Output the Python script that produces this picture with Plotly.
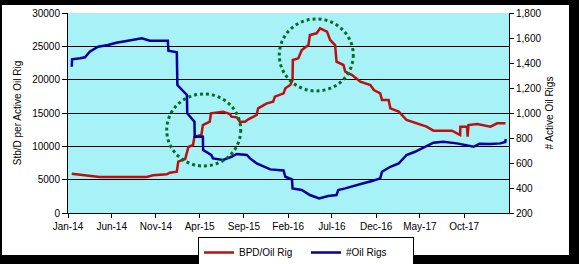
import plotly.graph_objects as go

# ---------------- data ----------------
rig_dates = ["2014-01-14","2014-01-15","2014-02-12","2014-03-01","2014-03-17","2014-04-15","2014-05-19",
             "2014-06-17","2014-07-22","2014-09-13","2014-10-11","2014-12-12","2014-12-14","2015-01-12",
             "2015-01-14","2015-02-16","2015-02-17","2015-03-14","2015-03-15","2015-04-12","2015-04-13",
             "2015-05-11","2015-05-17","2015-06-21","2015-07-20","2015-08-07","2015-09-11","2015-09-22",
             "2015-10-15","2015-11-19","2015-12-01","2016-01-16","2016-01-22","2016-02-14","2016-02-16",
             "2016-03-19","2016-04-16","2016-05-18","2016-06-18","2016-07-17","2016-07-23","2016-08-16",
             "2016-09-14","2016-10-18","2016-11-17","2016-12-15","2016-12-21","2017-01-19","2017-02-17",
             "2017-03-16","2017-04-14","2017-05-18","2017-06-17","2017-07-21","2017-09-06","2017-11-03",
             "2017-11-23","2017-12-31","2018-02-03","2018-02-20","2018-02-22"]
oil_rigs = [1370,1430,1438,1446,1490,1530,1544,
            1562,1576,1598,1578,1578,1498,1486,
            1224,1144,998,930,810,810,704,
            664,637,624,650,672,664,637,
            597,557,549,540,490,469,397,
            384,344,317,336,344,384,397,
            418,438,456,477,530,570,597,
            664,690,730,762,770,757,730,
            754,752,757,768,792]

bpd_dates = ["2014-01-14","2014-02-12","2014-03-17","2014-04-20","2014-09-30","2014-10-22","2014-12-08",
             "2014-12-19","2015-01-12","2015-01-17","2015-02-10","2015-02-21","2015-03-09","2015-03-14",
             "2015-04-07","2015-04-12","2015-05-06","2015-05-10","2015-06-21","2015-07-14","2015-07-20",
             "2015-08-07","2015-08-18","2015-09-05","2015-09-16","2015-10-15","2015-10-20","2015-11-19",
             "2015-12-11","2015-12-17","2016-01-16","2016-01-22","2016-02-08","2016-02-16","2016-02-17",
             "2016-03-07","2016-03-19","2016-04-11","2016-04-16","2016-05-09","2016-05-21","2016-06-14",
             "2016-06-25","2016-07-12","2016-07-17","2016-08-10","2016-08-16","2016-09-09","2016-10-07",
             "2016-11-11","2016-11-23","2016-12-15","2016-12-21","2017-01-13","2017-01-19","2017-02-17",
             "2017-03-16","2017-04-20","2017-05-24","2017-06-17","2017-08-20","2017-09-17","2017-09-18",
             "2017-10-11","2017-10-13","2017-10-16","2017-11-15","2017-12-31","2018-01-23","2018-02-21"]
bpd_per_rig = [5900,5750,5550,5400,5400,5650,5800,
               6050,6200,7700,8100,9900,10200,11450,
               11700,13200,13700,14950,15200,14850,14450,
               14350,13700,13700,14050,14700,15700,16450,
               16700,17450,17950,18700,19200,19950,22950,
               23200,24450,25200,26700,26950,27700,27200,
               25950,25200,22700,22200,21200,20700,19700,
               19200,18450,17950,16950,16950,15700,15200,
               13950,13450,12950,12350,12350,11700,12950,
               12950,11450,13200,13350,12950,13450,13450]

tick_dates = ["2014-01-01","2014-06-01","2014-11-01","2015-04-01","2015-09-01","2016-02-01",
              "2016-07-01","2016-12-01","2017-05-01","2017-10-01"]
x_range = ["2014-01-01", "2018-03-05"]

# highlight circles: (centre date, centre value on left axis)
circle_centres = [("2015-04-15", 12450), ("2016-05-08", 23700)]

# ---------------- layout geometry ----------------
W, H = 579, 264
ML, MR, MT, MB = 68, 70, 13, 51
PW, PH = W - ML - MR, H - MT - MB

def px(x):
    return (x - ML) / PW

def py(y):
    return (H - MB - y) / PH

FONT = "Liberation Sans, Arial, sans-serif"
RED = "#BE0F0F"
BLUE = "#00009A"
GREEN = "#0A6A2A"

fig = go.Figure()
fig.add_trace(go.Scatter(x=bpd_dates, y=bpd_per_rig, name="BPD/Oil Rig", mode="lines",
                         line=dict(color=RED, width=2.5), yaxis="y"))
fig.add_trace(go.Scatter(x=rig_dates, y=oil_rigs, name="#Oil Rigs", mode="lines",
                         line=dict(color=BLUE, width=2.5), yaxis="y2"))

shapes = []
for cx, cy in circle_centres:
    shapes.append(dict(type="circle", xref="x", yref="y", xsizemode="pixel", ysizemode="pixel",
                       xanchor=cx, yanchor=cy, x0=-37, x1=37, y0=-36, y1=36,
                       line=dict(color=GREEN, width=3, dash="dot"), layer="above"))

# black frame around the picture
black = dict(type="rect", xref="paper", yref="paper", fillcolor="black", line=dict(width=0), layer="above")
shapes.append(dict(black, x0=px(0), x1=px(W), y0=py(0), y1=py(5)))
shapes.append(dict(black, x0=px(0), x1=px(W), y0=py(255), y1=py(H)))
shapes.append(dict(black, x0=px(0), x1=px(2), y0=py(0), y1=py(H)))
shapes.append(dict(black, x0=px(569), x1=px(W), y0=py(0), y1=py(H)))

fig.update_layout(
    width=W, height=H,
    margin=dict(l=ML, r=MR, t=MT, b=MB, pad=0, autoexpand=False),
    paper_bgcolor="white",
    plot_bgcolor="#A6F2F6",
    font=dict(family=FONT, size=10, color="black"),
    showlegend=True,
    legend=dict(orientation="h", x=px(198), y=py(237), xanchor="left", yanchor="top",
                bordercolor="black", borderwidth=1, bgcolor="white",
                font=dict(size=10), entrywidth=62, itemwidth=30, tracegroupgap=0),
    xaxis=dict(type="date", range=x_range, tickvals=tick_dates, tickformat="%b-%y",
               showgrid=False, zeroline=False, showline=True, linecolor="black", linewidth=1,
               ticks="outside", ticklen=4, tickcolor="black", tickfont=dict(size=10)),
    yaxis=dict(range=[0, 30000], dtick=5000, tick0=0, tickformat="d", automargin=True,
               showgrid=True, gridcolor="black", gridwidth=1, zeroline=False,
               showline=True, linecolor="black", linewidth=1,
               ticks="outside", ticklen=5, tickcolor="black",
               title=dict(text="Stb/D per Active Oil Rig", font=dict(size=10), standoff=8)),
    yaxis2=dict(range=[200, 1800], dtick=200, tick0=200, tickformat=",d", overlaying="y", side="right",
                automargin=True,
                showgrid=False, zeroline=False, showline=True, linecolor="black", linewidth=1,
                ticks="outside", ticklen=4, tickcolor="black",
                title=dict(text="# Active Oil Rigs", font=dict(size=10), standoff=5)),
    shapes=shapes,
)

fig.write_html("out.html")
